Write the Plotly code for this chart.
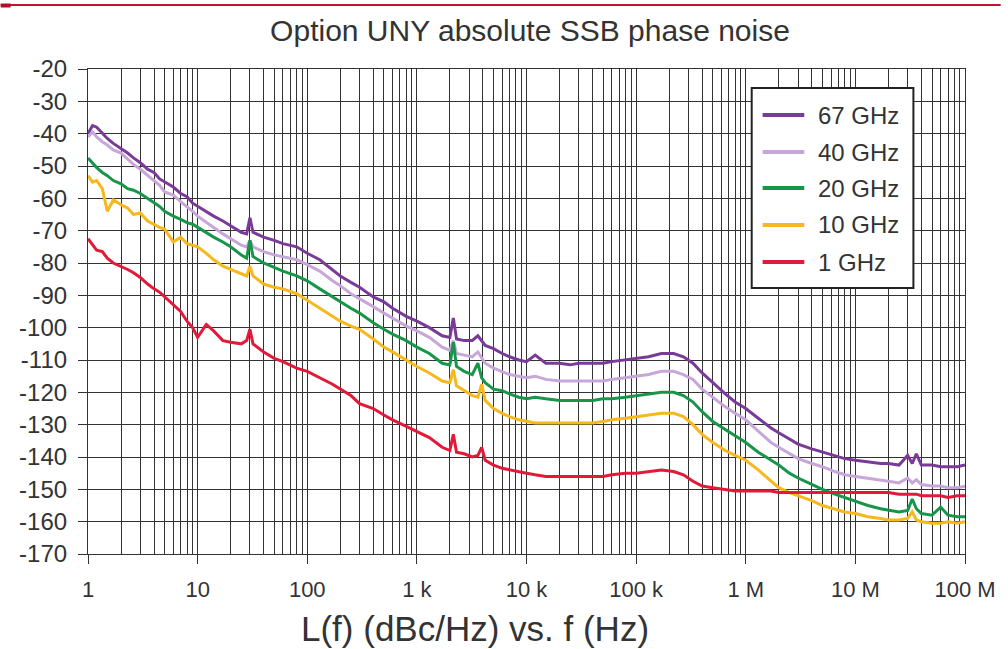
import plotly.graph_objects as go

freq = [1, 1.1, 1.2, 1.35, 1.5, 1.7, 2, 2.3, 2.6, 3, 3.5, 4, 4.5, 5, 6, 7, 8, 9, 10, 12, 14, 17, 20, 25, 28, 30, 32, 40, 50, 60, 80,
        100, 130, 170, 200, 250, 300, 400, 500, 600, 800, 1000, 1300, 1700, 2000, 2150, 2300, 2700, 3200, 3600, 3900, 4200,
        5000, 6000, 7000, 8500, 10000, 12000, 15000, 20000, 25000, 30000, 40000, 50000, 60000, 80000, 100000, 130000,
        170000, 220000, 270000, 330000, 400000, 500000, 650000, 800000, 1e6, 1.3e6, 1.7e6, 2e6, 2.5e6, 3e6, 4e6, 5e6,
        6.5e6, 8e6, 1e7, 1.3e7, 1.7e7, 2e7, 2.5e7, 3e7, 3.3e7, 3.6e7, 4e7, 5e7, 6e7, 7e7, 8.5e7, 1e8]

ghz67 = [-40, -37.5, -38, -40, -41.5, -43, -44.5, -46, -47.5, -49, -51, -52, -54, -55, -56.5, -58.5, -59.5, -61.5, -62.5,
         -64, -65.5, -67, -68.5, -70.5, -71, -66, -70.5, -72, -73, -74, -75,
         -77, -79, -82, -84, -86, -87.5, -90.5, -92, -94, -96.5, -98, -100, -102.5, -103, -97, -103.5, -104, -104, -102.5,
         -104, -105.5, -106.5, -108, -109, -110, -110.5, -108.5, -111, -111, -111.5, -111, -111, -111, -110.5, -110,
         -109.5, -109, -108, -108, -109, -111, -114, -117, -120.5, -123, -125, -128, -131, -132.5, -134.5, -136, -137.5,
         -138.5, -139.5, -140.5, -141, -141.5, -142, -142, -142.5, -139.5, -142, -139, -142.5, -142.5, -143, -143, -143, -142.5]

ghz40 = [-41, -39.5, -41, -42.5, -43.5, -45, -46, -48, -49.5, -51, -53, -54.5, -56, -58, -59, -61, -62.5, -64, -65.5,
         -67.5, -69, -71, -72.5, -74.5, -75, -73, -75, -76.5, -77.5, -78, -79,
         -80.5, -82.5, -85.5, -87, -89.5, -91, -93.5, -95.5, -97, -99.5, -101, -103, -106, -107, -104, -108, -108.5, -109,
         -107.5, -109.5, -111, -112.5, -113.5, -114.5, -115, -115.5, -115, -116, -116.5, -116.5, -116.5, -116.5, -116.5,
         -116, -115.5, -115, -114.5, -113.5, -113.5, -114.5, -116, -119, -121.5, -124.5, -126.5, -128.5, -132, -135.5,
         -137, -139, -140.5, -142, -143, -144.5, -145.5, -146, -146.5, -147, -147.5, -148, -146.5, -148, -147, -148.5,
         -149, -149, -149.5, -149.5, -149]

ghz20 = [-47.5, -49, -50.5, -52, -53, -54.5, -55.5, -57, -57.5, -58.5, -60, -61.5, -62.5, -64, -65.5, -66.5, -67.5, -68,
         -69, -70.5, -72, -73.5, -75, -77.5, -78.5, -73, -78, -80, -81.5, -82.5, -84,
         -85.5, -88, -90.5, -92, -94, -95.5, -98.5, -100.5, -102, -104, -106, -108, -111, -111.5, -104.5, -112, -113.5,
         -114.5, -111, -115.5, -117, -119, -119.5, -120.5, -121.5, -122, -121.5, -122, -122.5, -122.5, -122.5, -122.5,
         -122, -122, -121.5, -121, -120.5, -120, -120, -121, -123, -126, -129, -131.5, -133.5, -135.5, -138.5, -141,
         -142.5, -145, -146.5, -148.5, -150, -151.5, -152.5, -153.5, -155, -156, -156.5, -157, -156.5, -153, -156,
         -157.5, -158, -155.5, -158, -158.5, -158.5]

ghz10 = [-53, -55, -54.5, -57, -64, -60.5, -62, -63, -65, -64.5, -67, -68, -69, -69.5, -73.5, -72, -74, -74.5, -75, -77,
         -79, -81, -82, -83.5, -84, -81, -84, -86.5, -87.5, -88, -89.5,
         -91.5, -94, -96.5, -98, -99.5, -100.5, -103.5, -106, -107.5, -110, -112, -114, -116.5, -117, -113, -118, -119.5,
         -121, -121.5, -117.5, -122.5, -125, -126.5, -127.5, -128.5, -129, -129.5, -129.5, -129.5, -129.5, -129.5,
         -129.5, -129, -128.5, -128, -127.5, -127, -126.5, -126.5, -127.5, -130, -133, -135.5, -138, -139.5, -141, -144,
         -147.5, -149.5, -151, -152, -153.5, -155, -156, -157, -157.5, -158.5, -159, -159.5, -159.5, -159, -157, -159.5,
         -160, -160.5, -160.5, -160, -160.5, -160]

ghz1 = [-72.5, -74.5, -76, -76.5, -78.5, -80, -81, -82, -83, -84.5, -86.5, -88, -89, -90.5, -93, -95, -98, -100, -103,
        -99, -101, -104, -104.5, -105, -104, -100.5, -105, -107.5, -109.5, -110.5, -112.5,
        -113.5, -115.5, -117.5, -119, -121, -123.5, -125, -127, -128.5, -130.5, -132, -134, -137, -138, -133, -138.5,
        -139, -140, -139.5, -137, -141, -142.5, -143.5, -144, -144.5, -145, -145.5, -146, -146, -146, -146, -146, -146,
        -145.5, -145, -145, -144.5, -144, -144.5, -145.5, -147.5, -149, -149.5, -150, -150.5, -150.5, -150.5, -150.5,
        -151, -151, -151, -151, -151, -151, -151, -151, -151, -151, -151, -151.5, -151.5, -151.5, -151.5, -152, -152,
        -152, -152.5, -152, -152]

series_names = ["67 GHz", "40 GHz", "20 GHz", "10 GHz", "1 GHz"]
series_values = [ghz67, ghz40, ghz20, ghz10, ghz1]
series_colors = ["#7a3b98", "#c7a6d9", "#17964a", "#f6b81c", "#e01a38"]

x_tickvals = [1, 10, 100, 1e3, 1e4, 1e5, 1e6, 1e7, 1e8]
x_ticktext = ["1", "10", "100", "1 k", "10 k", "100 k", "1 M", "10 M", "100 M"]
y_tickvals = list(range(-170, -19, 10))
y_ticktext = [str(v) for v in y_tickvals]

FONT = "Liberation Sans, Arial, sans-serif"
GRID = "#333333"
TXT = "#333333"

fig = go.Figure()
for name, vals, col in zip(series_names, series_values, series_colors):
    fig.add_trace(go.Scatter(x=freq, y=vals, mode="lines", name=name, showlegend=False,
                             line=dict(color=col, width=3)))

W, H = 1008, 649
L, R, T, B = 88, 36, 69, 95
pw, ph = W - L - R, H - T - B


def px(xp):
    return (xp - L) / pw


def py(yp):
    return 1 - (yp - T) / ph


fig.update_layout(
    width=W, height=H,
    margin=dict(l=L, r=R, t=T, b=B),
    paper_bgcolor="white", plot_bgcolor="white",
    font=dict(family=FONT, color=TXT, size=22),
    title=dict(text="Option UNY absolute SSB phase noise", x=(L + pw / 2) / W, xanchor="center",
               y=1 - 30 / H, yanchor="middle", font=dict(size=30, color=TXT)),
    showlegend=False,
    xaxis=dict(type="log", range=[0, 8], tickmode="array", tickvals=x_tickvals, ticktext=x_ticktext,
               showgrid=True, gridcolor=GRID, gridwidth=1.2, ticks="outside", ticklen=9, tickcolor=GRID,
               tickwidth=1.2, showline=True, linecolor=GRID, linewidth=1.2, mirror=True,
               tickfont=dict(size=22, color=TXT), ticklabelstandoff=6,
               minor=dict(dtick="D1", showgrid=True, gridcolor=GRID, gridwidth=1.3, ticks=""),
               zeroline=False),
    yaxis=dict(range=[-170, -20], tickmode="array", tickvals=y_tickvals, ticktext=y_ticktext,
               showgrid=True, gridcolor=GRID, gridwidth=1.2, ticks="outside", ticklen=9, tickcolor=GRID,
               tickwidth=1.2, showline=True, linecolor=GRID, linewidth=1.2, mirror=True,
               tickfont=dict(size=24, color=TXT), ticklabelstandoff=6, zeroline=False),
)

fig.add_annotation(text="L(f) (dBc/Hz) vs. f (Hz)", xref="paper", yref="paper",
                   x=px(478), y=py(628), xanchor="center", yanchor="middle",
                   showarrow=False, font=dict(size=35, color=TXT))

# manual legend
fig.add_shape(type="rect", xref="paper", yref="paper", x0=px(757), x1=px(920), y0=py(288), y1=py(88),
              fillcolor="white", line=dict(color="#222222", width=2), layer="above")
legend_rows = [115, 152, 188, 225, 262]
for name, col, yrow in zip(series_names, series_colors, legend_rows):
    fig.add_shape(type="line", xref="paper", yref="paper", x0=px(768), x1=px(810), y0=py(yrow), y1=py(yrow),
                  line=dict(color=col, width=4), layer="above")
    fig.add_annotation(text=name, xref="paper", yref="paper", x=px(822), y=py(yrow), xanchor="left",
                       yanchor="middle", showarrow=False, font=dict(size=24, color=TXT))

# red rule at top of page
fig.add_shape(type="line", xref="paper", yref="paper", x0=px(0), x1=px(W),
              y0=py(5), y1=py(5), line=dict(color="#c4122e", width=2))
fig.add_shape(type="line", xref="paper", yref="paper", x0=px(0), x1=px(10),
              y0=py(5.5), y1=py(5.5), line=dict(color="#b0102a", width=4))

fig.write_html("out.html")
